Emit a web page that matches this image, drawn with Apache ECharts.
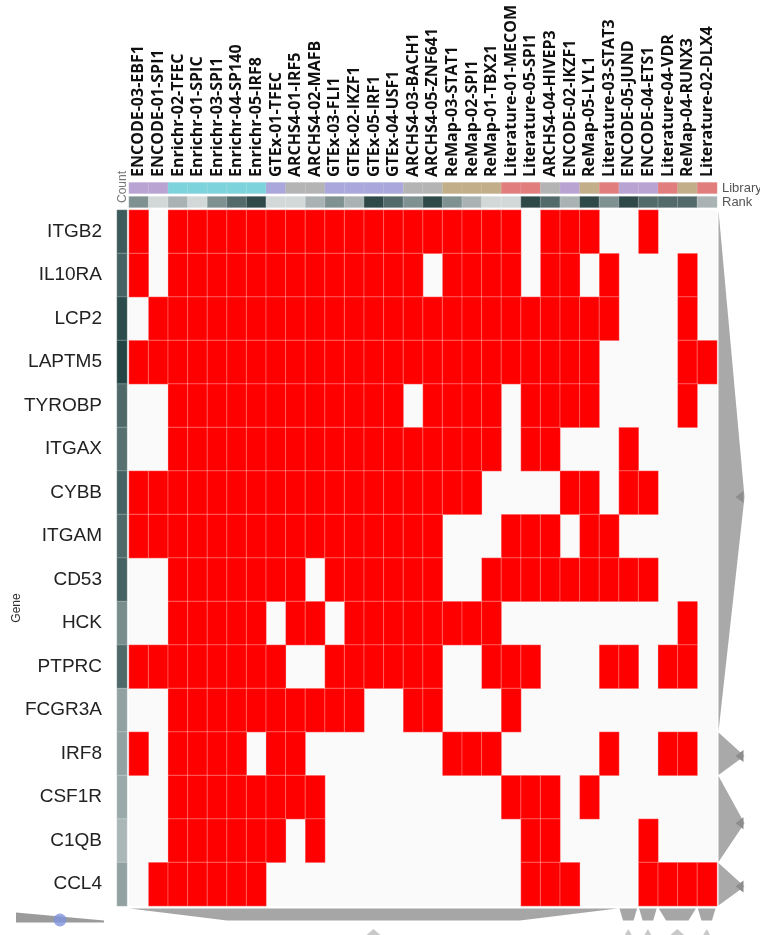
<!DOCTYPE html>
<html>
<head>
<meta charset="utf-8">
<script src="https://cdn.jsdelivr.net/npm/echarts@6/dist/echarts.min.js"></script>
<style>
  html, body { margin: 0; padding: 0; background: #ffffff; }
  #chart { width: 760px; height: 935px; }
</style>
</head>
<body>
<div id="chart"></div>
<script>
// Genes (rows, top to bottom)
const genes = ['ITGB2', 'IL10RA', 'LCP2', 'LAPTM5', 'TYROBP', 'ITGAX', 'CYBB', 'ITGAM',
  'CD53', 'HCK', 'PTPRC', 'FCGR3A', 'IRF8', 'CSF1R', 'C1QB', 'CCL4'];

// Gene-set libraries (columns, left to right)
const libraries = ['ENCODE-03-EBF1', 'ENCODE-01-SPI1', 'Enrichr-02-TFEC', 'Enrichr-01-SPIC',
  'Enrichr-03-SPI1', 'Enrichr-04-SP140', 'Enrichr-05-IRF8', 'GTEx-01-TFEC', 'ARCHS4-01-IRF5',
  'ARCHS4-02-MAFB', 'GTEx-03-FLI1', 'GTEx-02-IKZF1', 'GTEx-05-IRF1', 'GTEx-04-USF1',
  'ARCHS4-03-BACH1', 'ARCHS4-05-ZNF641', 'ReMap-03-STAT1', 'ReMap-02-SPI1', 'ReMap-01-TBX21',
  'Literature-01-MECOM', 'Literature-05-SPI1', 'ARCHS4-04-HIVEP3', 'ENCODE-02-IKZF1',
  'ReMap-05-LYL1', 'Literature-03-STAT3', 'ENCODE-05-JUND', 'ENCODE-04-ETS1',
  'Literature-04-VDR', 'ReMap-04-RUNX3', 'Literature-02-DLX4'];

// Source library of each column
const libraryGroups = ['ENCODE', 'ENCODE', 'Enrichr', 'Enrichr', 'Enrichr', 'Enrichr', 'Enrichr',
  'GTEx', 'ARCHS4', 'ARCHS4', 'GTEx', 'GTEx', 'GTEx', 'GTEx', 'ARCHS4', 'ARCHS4',
  'ReMap', 'ReMap', 'ReMap', 'Literature', 'Literature', 'ARCHS4', 'ENCODE', 'ReMap',
  'Literature', 'ENCODE', 'ENCODE', 'Literature', 'ReMap', 'Literature'];

// Rank of each column within its library
const ranks = [3, 1, 2, 1, 3, 4, 5, 1, 1, 2, 3, 2, 5, 4, 3, 5, 3, 2, 1, 1, 5, 4, 2, 5, 3, 5, 4, 4, 4, 2];

const groupColors = {
  ENCODE: '#b9a3d3',
  Enrichr: '#7dd3dc',
  GTEx: '#a9a7db',
  ARCHS4: '#b4b4b4',
  ReMap: '#c2ae88',
  Literature: '#e27d7d'
};

// Membership matrix: 1 = gene present in the library's gene set
const membership = [
  [1,0,1,1,1,1,1,1,1,1, 1,1,1,1,1,1,1,1,1,1, 0,1,1,1,0,0,1,0,0,0], // ITGB2
  [1,0,1,1,1,1,1,1,1,1, 1,1,1,1,1,0,1,1,1,1, 0,1,1,0,1,0,0,0,1,0], // IL10RA
  [0,1,1,1,1,1,1,1,1,1, 1,1,1,1,1,1,1,1,1,1, 1,1,1,1,1,0,0,0,1,0], // LCP2
  [1,1,1,1,1,1,1,1,1,1, 1,1,1,1,1,1,1,1,1,1, 1,1,1,1,0,0,0,0,1,1], // LAPTM5
  [0,0,1,1,1,1,1,1,1,1, 1,1,1,1,0,1,1,1,1,0, 1,1,1,1,0,0,0,0,1,0], // TYROBP
  [0,0,1,1,1,1,1,1,1,1, 1,1,1,1,1,1,1,1,1,0, 1,1,0,0,0,1,0,0,0,0], // ITGAX
  [1,1,1,1,1,1,1,1,1,1, 1,1,1,1,1,1,1,1,0,0, 0,0,1,1,0,1,1,0,0,0], // CYBB
  [1,1,1,1,1,1,1,1,1,1, 1,1,1,1,1,1,0,0,0,1, 1,1,0,1,1,0,0,0,0,0], // ITGAM
  [0,0,1,1,1,1,1,1,1,0, 1,1,1,1,1,1,0,0,1,1, 1,1,1,1,1,1,1,0,0,0], // CD53
  [0,0,1,1,1,1,1,0,1,1, 0,1,1,1,1,1,1,1,1,0, 0,0,0,0,0,0,0,0,1,0], // HCK
  [1,1,1,1,1,1,1,1,0,0, 1,1,1,1,1,1,0,0,1,1, 1,0,0,0,1,1,0,1,1,0], // PTPRC
  [0,0,1,1,1,1,1,1,1,1, 1,1,0,0,1,1,0,0,0,1, 0,0,0,0,0,0,0,0,0,0], // FCGR3A
  [1,0,1,1,1,1,0,1,1,0, 0,0,0,0,0,0,1,1,1,0, 0,0,0,0,1,0,0,1,1,0], // IRF8
  [0,0,1,1,1,1,1,1,1,1, 0,0,0,0,0,0,0,0,0,1, 1,1,0,1,0,0,0,0,0,0], // CSF1R
  [0,0,1,1,1,1,1,1,0,1, 0,0,0,0,0,0,0,0,0,0, 1,1,0,0,0,0,1,0,0,0], // C1QB
  [0,1,1,1,1,1,1,0,0,0, 0,0,0,0,0,0,0,0,0,0, 1,1,1,0,0,0,1,1,1,1]  // CCL4
];

// Dendrogram clusters (first index, last index)
const rowClusters = [[0, 11], [12, 12], [13, 14], [15, 15]];
const colClusters = [[0, 24], [25, 25], [26, 26], [27, 28], [29, 29]];

// ---- derived series data ----
const cellData = [];
membership.forEach((row, r) => row.forEach((v, c) => { if (v) cellData.push([c, r, v]); }));
const counts = membership.map(row => row.reduce((a, b) => a + b, 0));
const countData = counts.map((n, r) => [0, r, n]);
const libraryData = libraryGroups.map((g, c) => ({ value: [c, 0, c], itemStyle: { color: groupColors[g] } }));
const rankData = ranks.map((k, c) => [c, 0, k]);

const chart = echarts.init(document.getElementById('chart'), null, { renderer: 'canvas' });

const hidden = { show: false };
const hiddenAxis = (extra) => Object.assign({
  type: 'category', axisLine: hidden, axisTick: hidden, axisLabel: hidden, splitLine: hidden
}, extra);

// Row dendrogram: one triangle per row cluster, to the right of the matrix
function rowDendro(params, api) {
  const s = api.value(0), e = api.value(1);
  const size = api.size([1, 1]);
  const last = libraries.length - 1;
  const a = api.coord([last, s]);
  const b = api.coord([last, e]);
  const x0 = a[0] + size[0] / 2 + 1.5;
  const top = a[1] - size[1] / 2 + 0.5;
  const bot = b[1] + size[1] / 2 - 0.5;
  const mid = top + (bot - top) * 0.55;
  const apex = x0 + 26;
  return {
    type: 'group',
    children: [
      { type: 'polygon', shape: { points: [[x0, top], [apex, mid], [x0, bot]] }, style: { fill: '#a9a9a9' } },
      { type: 'polygon', shape: { points: [[apex - 9, mid], [apex - 1, mid - 6], [apex - 1, mid + 6]] }, style: { fill: '#8d8d8d' } }
    ]
  };
}

// Column dendrogram: trapezoid plus marker per column cluster, below the matrix
function colDendro(params, api) {
  const s = api.value(0), e = api.value(1);
  const size = api.size([1, 1]);
  const last = genes.length - 1;
  const a = api.coord([s, last]);
  const b = api.coord([e, last]);
  const left = a[0] - size[0] / 2 + 0.5;
  const right = b[0] + size[0] / 2 - 1.5;
  const y0 = a[1] + size[1] / 2 + 2.5;
  const y1 = y0 + 12;
  const span = right - left;
  const inset = span * 0.2;
  const cx = (left + right) / 2;
  const hw = Math.min(10, (span + 2) * 0.25);
  return {
    type: 'group',
    children: [
      { type: 'polygon', shape: { points: [[left, y0], [right, y0], [right - inset, y1], [left + inset, y1]] }, style: { fill: '#a6a6a6' } },
      { type: 'polygon', shape: { points: [[cx, y1 + 8.5], [cx + hw, y1 + 17], [cx - hw, y1 + 17]] }, style: { fill: '#c9c9c9' } }
    ]
  };
}

const option = {
  backgroundColor: '#ffffff',
  animation: false,
  grid: [
    { left: 129, top: 210, width: 588, height: 696, show: true, backgroundColor: '#fafafa', borderWidth: 0 },
    { left: 117, top: 210, width: 10, height: 696 },
    { left: 129, top: 182.5, width: 588, height: 11 },
    { left: 129, top: 196.5, width: 588, height: 11 }
  ],
  xAxis: [
    {
      type: 'category', gridIndex: 0, data: libraries, position: 'top',
      axisLine: hidden, axisTick: hidden, splitLine: hidden,
      axisLabel: {
        interval: 0, rotate: -90, margin: 33,
        fontFamily: 'Open Sans', fontWeight: 'bold', fontSize: 16, color: '#111111'
      }
    },
    hiddenAxis({ gridIndex: 1, data: ['Count'] }),
    hiddenAxis({ gridIndex: 2, data: libraries }),
    hiddenAxis({ gridIndex: 3, data: libraries })
  ],
  yAxis: [
    {
      type: 'category', gridIndex: 0, data: genes, inverse: true,
      axisLine: hidden, axisTick: hidden, splitLine: hidden,
      axisLabel: { interval: 0, margin: 27, fontFamily: 'Liberation Sans', fontSize: 19, color: '#222222' }
    },
    hiddenAxis({ gridIndex: 1, data: genes, inverse: true }),
    hiddenAxis({ gridIndex: 2, data: ['Library'] }),
    hiddenAxis({ gridIndex: 3, data: ['Rank'] })
  ],
  visualMap: [
    {
      show: false, type: 'continuous', seriesIndex: 1, dimension: 2,
      min: 0, max: 26, inRange: { color: ['#ffffff', '#254545'] }
    },
    {
      show: false, type: 'piecewise', seriesIndex: 3, dimension: 2,
      pieces: [
        { value: 1, color: '#d2d8d8' },
        { value: 2, color: '#a9b3b3' },
        { value: 3, color: '#7f9191' },
        { value: 4, color: '#536a6a' },
        { value: 5, color: '#2f4949' }
      ]
    }
  ],
  series: [
    {
      name: 'membership', type: 'heatmap', xAxisIndex: 0, yAxisIndex: 0, data: cellData,
      itemStyle: { color: '#ff0000', borderColor: 'rgba(255,255,255,0.55)', borderWidth: 0.6 },
      emphasis: { disabled: true }
    },
    {
      name: 'count', type: 'heatmap', xAxisIndex: 1, yAxisIndex: 1, data: countData,
      itemStyle: { borderColor: 'rgba(255,255,255,0.5)', borderWidth: 0.5 },
      emphasis: { disabled: true }
    },
    {
      name: 'library', type: 'heatmap', xAxisIndex: 2, yAxisIndex: 2, data: libraryData,
      itemStyle: { borderColor: 'rgba(255,255,255,0.35)', borderWidth: 0.4 },
      emphasis: { disabled: true }
    },
    {
      name: 'rank', type: 'heatmap', xAxisIndex: 3, yAxisIndex: 3, data: rankData,
      itemStyle: { borderColor: 'rgba(255,255,255,0.5)', borderWidth: 0.5 },
      emphasis: { disabled: true }
    },
    {
      name: 'row dendrogram', type: 'custom', xAxisIndex: 0, yAxisIndex: 0,
      data: rowClusters, encode: { y: [0, 1] }, renderItem: rowDendro, silent: true, clip: false
    },
    {
      name: 'column dendrogram', type: 'custom', xAxisIndex: 0, yAxisIndex: 0,
      data: colClusters, encode: { x: [0, 1] }, renderItem: colDendro, silent: true, clip: false
    }
  ],
  graphic: [
    {
      type: 'text', x: 122.5, y: 203, rotation: Math.PI / 2,
      style: { text: 'Count', fill: '#777777', font: '12px "Liberation Sans"', align: 'left', verticalAlign: 'middle' }
    },
    {
      type: 'text', x: 722, y: 188.5,
      style: { text: 'Library', fill: '#555555', font: '13px "Liberation Sans"', align: 'left', verticalAlign: 'middle' }
    },
    {
      type: 'text', x: 722, y: 202.5,
      style: { text: 'Rank', fill: '#555555', font: '13px "Liberation Sans"', align: 'left', verticalAlign: 'middle' }
    },
    {
      type: 'text', x: 17, y: 608, rotation: Math.PI / 2,
      style: { text: 'Gene', fill: '#333333', font: '12px "Liberation Sans"', align: 'center', verticalAlign: 'middle' }
    },
    // dendrogram depth slider
    {
      type: 'polygon',
      shape: { points: [[16, 912.5], [104, 920.5], [104, 922.5], [16, 922.5]] },
      style: { fill: '#9b9b9b' }
    },
    {
      type: 'circle', shape: { cx: 60, cy: 920, r: 6.5 },
      style: { fill: 'rgba(128,148,222,0.8)' }
    }
  ]
};

chart.setOption(option);
</script>
</body>
</html>
